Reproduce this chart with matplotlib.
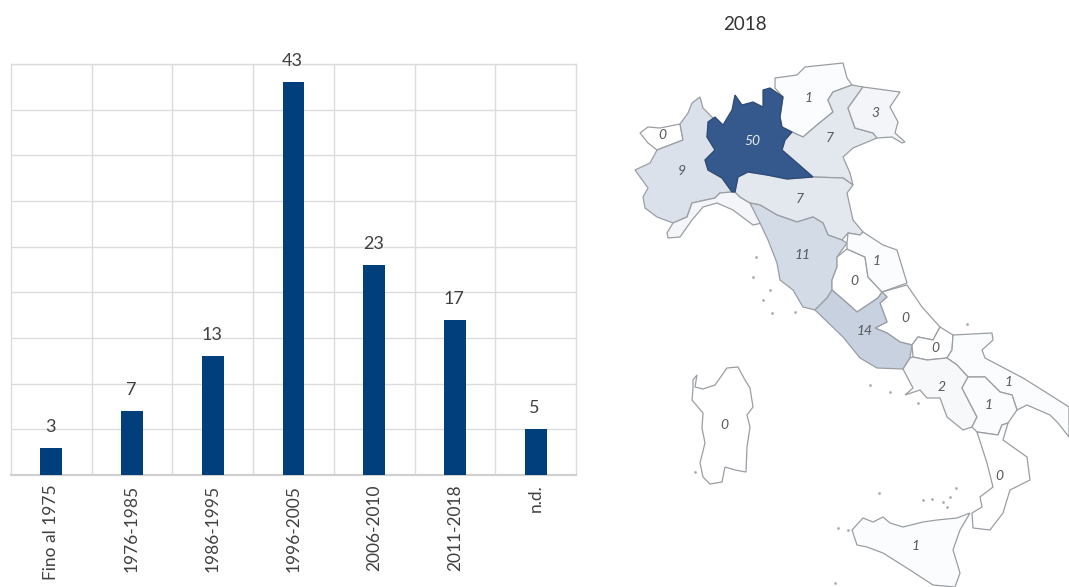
import matplotlib
matplotlib.use("Agg")
import matplotlib.pyplot as plt
from matplotlib.colors import LinearSegmentedColormap
from matplotlib.patches import Polygon

plt.rcParams['font.family'] = ['Lato', 'DejaVu Sans']

# Bar chart data
periods = ['Fino al 1975', '1976-1985', '1986-1995', '1996-2005', '2006-2010', '2011-2018', 'n.d.']
counts = [3, 7, 13, 43, 23, 17, 5]

# Map data, one entry per region
region_names = ['Valle d\'Aosta', 'Piemonte', 'Liguria', 'Lombardia', 'Trentino', 'Veneto', 'Friuli',
                'Emilia-Romagna', 'Toscana', 'Umbria', 'Marche', 'Abruzzo', 'Lazio', 'Molise',
                'Puglia', 'Campania', 'Basilicata', 'Calabria', 'Sicilia', 'Sardegna']
region_values = [0, 9, None, 50, 1, 7, 3, 7, 11, 0, 1, 0, 14, 0, 1, 2, 1, 0, 1, 0]
label_xy = [(662, 135), (682, 171), None, (752, 141), (809, 98), (830, 138), (875, 113), (800, 199),
            (803, 255), (854, 281), (877, 261), (905, 318), (865, 331), (935, 348), (1009, 382),
            (942, 387), (989, 405), (999, 476), (916, 546), (724, 425)]

# Region outlines, in image pixels
outlines = {
    'Valle d\'Aosta': [(640, 133), (648, 127), (660, 128), (680, 124), (683, 140), (670, 145), (657, 150), (648, 143)],
    'Piemonte': [(700, 97), (703, 108), (713, 118), (708, 127), (707, 137), (715, 150), (705, 160), (708, 170),
                 (722, 178), (732, 192), (720, 193), (715, 198), (692, 203), (687, 217), (673, 223), (657, 217),
                 (645, 208), (643, 197), (648, 188), (635, 170), (650, 163), (657, 150), (670, 145), (683, 140),
                 (680, 124), (688, 113), (692, 103)],
    'Liguria': [(732, 192), (720, 193), (715, 198), (692, 203), (687, 217), (673, 223), (667, 233), (668, 238),
                (680, 237), (692, 220), (703, 207), (717, 203), (733, 210), (753, 225), (762, 223), (750, 203),
                (740, 197), (735, 192)],
    'Lombardia': [(735, 95), (742, 105), (753, 102), (763, 107), (763, 90), (770, 88), (783, 97), (780, 117),
                  (782, 127), (792, 132), (785, 140), (782, 150), (797, 163), (813, 177), (787, 179), (767, 175),
                  (748, 172), (738, 177), (735, 192), (732, 192), (722, 178), (708, 170), (705, 160), (715, 150),
                  (707, 137), (708, 122), (715, 117), (723, 125), (732, 110)],
    'Trentino': [(775, 78), (797, 75), (805, 67), (843, 63), (847, 78), (852, 85), (833, 92), (828, 100),
                 (833, 112), (817, 125), (803, 137), (792, 132), (782, 127), (780, 117), (783, 97), (775, 88)],
    'Veneto': [(852, 85), (863, 87), (848, 108), (855, 128), (873, 133), (877, 138), (853, 148), (843, 157),
               (850, 173), (853, 185), (843, 178), (813, 177), (797, 163), (782, 150), (785, 140), (792, 132),
               (803, 137), (817, 125), (833, 112), (828, 100), (833, 92)],
    'Friuli': [(863, 87), (900, 92), (890, 107), (898, 122), (895, 133), (905, 142), (902, 143), (892, 137),
               (877, 138), (873, 133), (855, 128), (848, 108)],
    'Emilia-Romagna': [(738, 177), (748, 172), (767, 175), (787, 179), (813, 177), (843, 178), (853, 185), (847, 193),
                       (853, 220), (863, 232), (860, 235), (848, 233), (842, 240), (828, 235), (823, 223), (813, 217),
                       (797, 222), (777, 215), (760, 205), (750, 203), (740, 197), (735, 192)],
    'Toscana': [(750, 203), (760, 205), (777, 215), (797, 222), (813, 217), (823, 223), (828, 235), (842, 240),
                (847, 243), (837, 257), (837, 267), (832, 280), (832, 290), (827, 298), (815, 310), (803, 307),
                (793, 290), (780, 280), (777, 263), (768, 240), (760, 223)],
    'Umbria': [(847, 249), (865, 257), (868, 277), (882, 292), (878, 298), (857, 312), (847, 303), (832, 290),
               (832, 280), (837, 267), (837, 257)],
    'Marche': [(848, 233), (860, 235), (863, 232), (883, 245), (897, 250), (907, 283), (882, 292), (868, 277),
               (865, 257), (847, 249), (847, 243)],
    'Abruzzo': [(882, 292), (907, 285), (922, 307), (940, 327), (933, 340), (918, 337), (912, 345), (900, 342),
                (887, 333), (875, 328), (887, 322), (880, 303), (887, 297)],
    'Lazio': [(815, 310), (827, 298), (832, 290), (847, 303), (857, 312), (878, 298), (882, 292), (887, 297),
              (880, 303), (887, 322), (875, 328), (887, 333), (900, 342), (912, 345), (910, 358), (903, 369),
              (877, 368), (860, 358), (843, 337)],
    'Molise': [(940, 327), (953, 335), (952, 350), (947, 358), (927, 360), (913, 357), (912, 345), (918, 337), (933, 340)],
    'Puglia': [(953, 335), (992, 333), (993, 340), (982, 350), (985, 358), (1023, 378), (1047, 393), (1069, 407),
               (1069, 437), (1058, 423), (1050, 415), (1027, 405), (1017, 410), (1012, 395), (1000, 392), (985, 377),
               (968, 377), (957, 365), (947, 358), (952, 350)],
    'Campania': [(913, 357), (927, 360), (947, 358), (957, 365), (968, 377), (962, 388), (977, 417), (972, 427),
                 (963, 430), (947, 417), (940, 398), (927, 398), (920, 390), (905, 395), (913, 388), (903, 369), (910, 358)],
    'Basilicata': [(968, 377), (985, 377), (1000, 392), (1012, 395), (1017, 410), (1008, 423), (1002, 425), (998, 435),
                   (977, 432), (972, 427), (977, 417), (962, 388)],
    'Calabria': [(977, 432), (998, 435), (1002, 425), (1008, 423), (1003, 440), (1027, 457), (1030, 480), (1010, 490),
                 (1003, 513), (990, 530), (973, 528), (972, 513), (982, 507), (980, 497), (993, 487), (987, 463)],
    'Sicilia': [(852, 530), (863, 518), (873, 522), (883, 517), (890, 523), (903, 527), (923, 522), (937, 520),
                (957, 518), (970, 513), (960, 530), (953, 550), (957, 563), (960, 573), (955, 587), (933, 585),
                (910, 570), (883, 553), (867, 547), (857, 545)],
    'Sardegna': [(693, 380), (697, 375), (695, 387), (703, 389), (715, 385), (727, 368), (738, 367), (745, 380),
                 (750, 388), (753, 407), (747, 415), (750, 427), (747, 447), (746, 472), (735, 470), (725, 467),
                 (722, 482), (710, 484), (703, 477), (700, 463), (705, 443), (702, 428), (703, 413), (692, 400),
                 (693, 388)],
}

# Small islands around the coast
island_x = [756, 753, 763, 770, 772, 795, 870, 890, 918, 879, 923, 932, 943, 947, 956, 950, 838, 848, 835, 967, 695]
island_y = [257, 277, 300, 290, 313, 312, 385, 392, 403, 493, 500, 499, 502, 507, 488, 497, 528, 530, 583, 324, 472]

fig = plt.figure(figsize=(10.69, 5.87), dpi=100)

# Bar chart
ax = fig.add_axes([11 / 1069, 112 / 587, 565 / 1069, 411 / 587])
ax.bar(range(len(periods)), counts, width=0.27, color='#003f7b', zorder=3)
for i, c in enumerate(counts):
    ax.annotate(str(c), (i, c), xytext=(-1, 21), textcoords='offset pixels', ha='center', va='center',
                fontsize=13, color='#404040', annotation_clip=False, zorder=4)
ax.set_xlim(-0.5, len(periods) - 0.5)
ax.set_ylim(0, 45)
ax.set_yticks(range(0, 46, 5))
ax.set_yticklabels([])
ax.set_xticks(range(len(periods)))
ax.set_xticklabels(periods, rotation=90, fontsize=12.5, color='#404040')
ax.tick_params(length=0, pad=7)
ax.grid(axis='y', color='#dcdcdc', linewidth=1, zorder=0)
for i in range(1, len(periods)):
    ax.axvline(i - 0.5, color='#dcdcdc', linewidth=1, zorder=0)
for side in ax.spines:
    ax.spines[side].set_color('#dcdcdc')
    ax.spines[side].set_linewidth(1)
ax.spines['bottom'].set_color('#d0d0d0')
ax.spines['bottom'].set_linewidth(1.6)

# Map, drawn over the whole figure in image pixels
map_ax = fig.add_axes([0, 0, 1, 1])
map_ax.set_xlim(0, 1069)
map_ax.set_ylim(587, 0)
map_ax.axis('off')
map_ax.patch.set_alpha(0)

shade = LinearSegmentedColormap.from_list('shade', ['#ffffff', '#35598c'])
for name, value in zip(region_names, region_values):
    face = '#f3f5f8' if value is None else shade(value / 50)
    edge = '#2f4a75' if value == 50 else '#9a9ea3'
    map_ax.add_patch(Polygon(outlines[name], closed=True, facecolor=face, edgecolor=edge,
                             linewidth=0.9, zorder=3 if value == 50 else 2))

map_ax.scatter(island_x, island_y, s=4, color='#a9adb2', linewidths=0, zorder=2)

for value, xy in zip(region_values, label_xy):
    if xy is None:
        continue
    map_ax.text(xy[0], xy[1], str(value), ha='center', va='center', fontsize=10, style='italic',
                color='#e8ecf3' if value == 50 else '#55585c', zorder=4)

map_ax.text(745, 25, '2018', ha='center', va='center', fontsize=13.5, color='#333333')

fig.savefig('out.png', dpi=100)
